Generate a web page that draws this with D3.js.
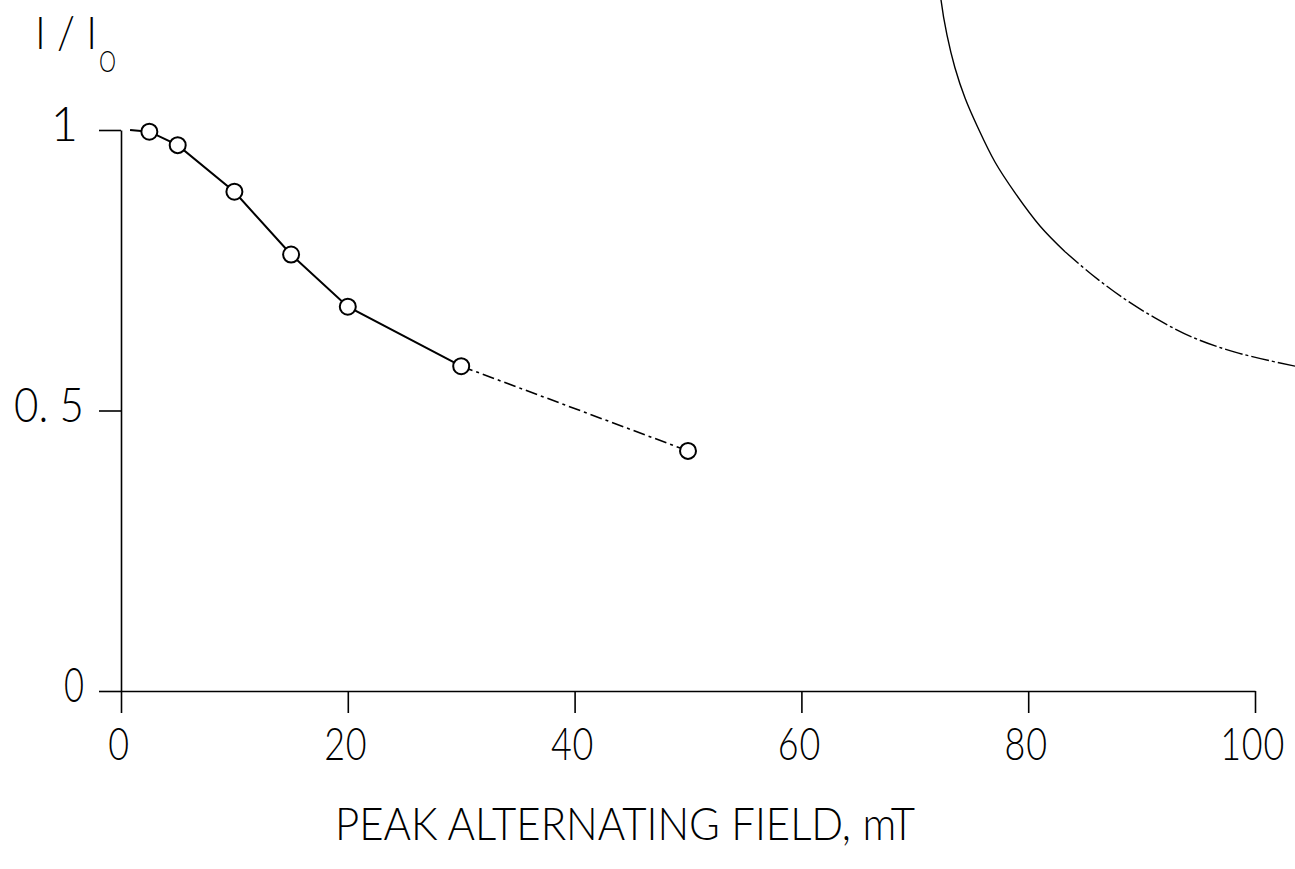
<!DOCTYPE html>
<html>
<head>
<meta charset="utf-8">
<script src="https://cdn.jsdelivr.net/npm/d3@7"></script>
<style>
  html, body { margin: 0; padding: 0; background: #fff; }
  svg { display: block; }
  text, tspan { font-family: Lato, "DejaVu Sans", sans-serif; font-weight: 300; fill: #000; }
</style>
</head>
<body>
<svg id="chart" width="1295" height="869"></svg>
<script>
// ---- data ----
const fieldMT = [2.5, 5, 10, 15, 20, 30, 50];
const ratioI = [0.997, 0.973, 0.890, 0.778, 0.685, 0.579, 0.428];
const leadInX = [0.8];
const leadInY = [1.0];
const solidCount = 6; // points 0..5 joined by solid line, 5..6 dash-dot

const refCurveX = [72.15, 72.31, 72.84, 73.54, 74.43, 75.57, 77.07, 78.84, 81.04, 83.25, 85.63, 88.27, 91.18, 94.44, 98.24, 103.53];
const refCurveY = [1.27, 1.232, 1.169, 1.111, 1.057, 1.004, 0.943, 0.888, 0.829, 0.783, 0.742, 0.702, 0.665, 0.631, 0.604, 0.579];
const refSolidCount = 10;

const xTicks = [0, 20, 40, 60, 80, 100];
const yTicks = [0, 0.5, 1];
const yTickLabels = ["0", "0. 5", "1"];
const xTitle = "PEAK ALTERNATING FIELD,  mT";

// ---- layout ----
const W = 1295;
const svg = d3.select("#chart");
const x = d3.scaleLinear().domain([0, 100]).range([121, 1255]);
const y = d3.scaleLinear().domain([0, 1]).range([691, 130]);

const xAxis = d3.axisBottom(x).tickValues(xTicks).tickSizeInner(22).tickSizeOuter(0).tickFormat("");
const yAxis = d3.axisLeft(y).tickValues(yTicks).tickSizeInner(22).tickSizeOuter(0).tickFormat("");

const gx = svg.append("g").attr("transform", `translate(0,${y(0)})`).call(xAxis);
const gy = svg.append("g").attr("transform", `translate(${x(0)},0)`).call(yAxis);
[gx, gy].forEach(g => {
  g.selectAll("path.domain").attr("stroke", "#000").attr("stroke-width", 1.6);
  g.selectAll(".tick line").attr("stroke", "#000").attr("stroke-width", 1.6);
});

// x tick labels: condensed via horizontal scale so the real box matches the drawn glyphs
const sx = 0.78;
svg.append("g").selectAll("text").data(xTicks).join("text")
  .attr("text-anchor", "middle")
  .attr("font-size", 46)
  .attr("letter-spacing", 1)
  .attr("fill", "#000")
  .text(d => String(d))
  .attr("transform", function(d) {
    const w = this.getComputedTextLength() * sx;
    const cx = Math.min(x(d) - 2, W - 10 - w / 2);
    return `translate(${cx},760) scale(${sx},1)`;
  });

// y tick labels
svg.append("g").selectAll("text").data(yTicks).join("text")
  .attr("x", (d, i) => yTickLabels[i] === "1" ? 78 : 84)
  .attr("y", d => y(d) + 11)
  .attr("text-anchor", "end")
  .attr("font-size", 47)
  .attr("fill", "#000")
  .each(function(d, i) {
    const t = yTickLabels[i];
    if (t.length > 1) d3.select(this).attr("textLength", 70).attr("lengthAdjust", "spacingAndGlyphs");
    else if (t === "0") d3.select(this).attr("textLength", 20).attr("lengthAdjust", "spacingAndGlyphs");
  })
  .text((d, i) => yTickLabels[i]);

// y axis title I/I0
const yt = svg.append("text").attr("x", 35).attr("y", 49).attr("font-size", 46).attr("fill", "#000");
yt.append("tspan").attr("textLength", 62).attr("lengthAdjust", "spacingAndGlyphs").attr("fill", "#000").text("I / I");
yt.append("tspan").attr("x", 99).attr("y", 72).attr("font-size", 30).attr("fill", "#000")
  .attr("textLength", 17).attr("lengthAdjust", "spacingAndGlyphs").text("O");

// x axis title
svg.append("text")
  .attr("x", 335).attr("y", 840)
  .attr("font-size", 45)
  .attr("fill", "#000")
  .attr("textLength", 580).attr("lengthAdjust", "spacingAndGlyphs")
  .text(xTitle);

// ---- reference curve (upper right) ----
const line = d3.line().x(d => x(d[0])).y(d => y(d[1])).curve(d3.curveCatmullRom.alpha(0.5));
const refPts = refCurveX.map((v, i) => [v, refCurveY[i]]);
svg.append("path").attr("d", line(refPts.slice(0, refSolidCount)))
  .attr("fill", "none").attr("stroke", "#000").attr("stroke-width", 1.4);
svg.append("path").attr("d", line(refPts.slice(refSolidCount - 1)))
  .attr("fill", "none").attr("stroke", "#000").attr("stroke-width", 1.4)
  .attr("stroke-dasharray", "18,3,3,3");

// ---- data series ----
const straight = d3.line().x(d => x(d[0])).y(d => y(d[1]));
const pts = fieldMT.map((v, i) => [v, ratioI[i]]);
const solidPts = [[leadInX[0], leadInY[0]]].concat(pts.slice(0, solidCount));
svg.append("path").attr("d", straight(solidPts))
  .attr("fill", "none").attr("stroke", "#000").attr("stroke-width", 2);
svg.append("path").attr("d", straight(pts.slice(solidCount - 1)))
  .attr("fill", "none").attr("stroke", "#000").attr("stroke-width", 1.6)
  .attr("stroke-dasharray", "12,4,3,4");

svg.append("g").selectAll("circle").data(pts).join("circle")
  .attr("cx", d => x(d[0])).attr("cy", d => y(d[1])).attr("r", 8)
  .attr("fill", "#fff").attr("stroke", "#000").attr("stroke-width", 2);
</script>
</body>
</html>
